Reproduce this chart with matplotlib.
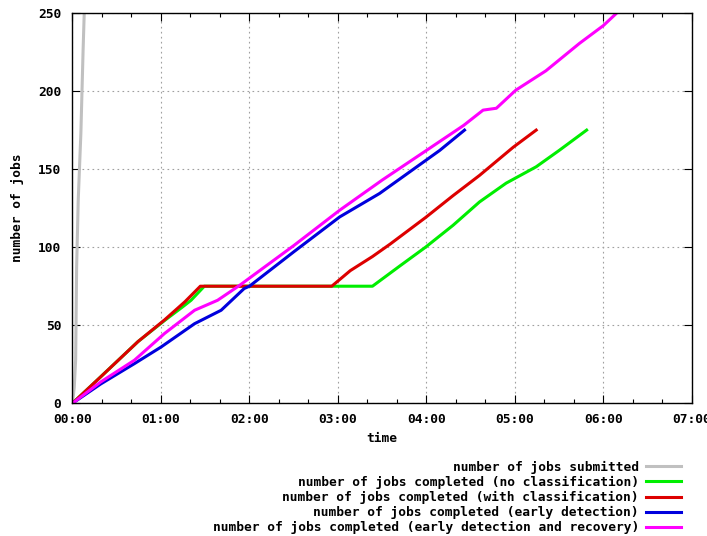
import matplotlib
matplotlib.use('Agg')
import matplotlib.pyplot as plt
from matplotlib.ticker import MultipleLocator, FuncFormatter

# time in hours, number of jobs
t_submitted = [0, 0.02, 0.036, 0.047, 0.065, 0.095, 0.12, 0.133]
n_submitted = [0, 10, 28, 87, 130, 173, 226, 250]

t_nocls = [0, 0.32, 0.74, 1.04, 1.25, 1.34, 1.49, 3.39, 3.70, 3.99, 4.30, 4.60, 4.90, 5.24, 5.50, 5.81]
n_nocls = [0, 17, 39.5, 53, 62, 66, 75, 75, 88, 100, 114, 129, 141, 151.5, 162, 175]

t_cls = [0, 0.32, 0.74, 1.04, 1.27, 1.445, 2.93, 3.14, 3.39, 3.59, 3.99, 4.30, 4.60, 4.98, 5.24]
n_cls = [0, 17, 39.5, 53.4, 65, 75, 75, 85, 94, 102, 119, 133, 146, 164, 175]

t_early = [0, 0.32, 0.70, 1.0, 1.38, 1.68, 1.94, 2.0, 2.5, 3.02, 3.47, 4.15, 4.43]
n_early = [0, 12.4, 25.4, 36, 51, 59.6, 73.5, 75, 97, 119.4, 134.4, 162, 175]

t_recov = [0, 0.32, 0.70, 1.04, 1.38, 1.64, 1.89, 2.5, 3.02, 3.5, 4.0, 4.42, 4.64, 4.79, 5.01, 5.35, 5.73, 6.0, 6.15]
n_recov = [0, 13.7, 27.6, 44.7, 59.6, 66, 75.6, 101, 123.7, 143, 162, 178, 187.8, 189, 200.6, 213, 230.6, 242, 250]

labels = ['number of jobs submitted',
          'number of jobs completed (no classification)',
          'number of jobs completed (with classification)',
          'number of jobs completed (early detection)',
          'number of jobs completed (early detection and recovery)']
colors = ['#c0c0c0', '#00ee00', '#dd0000', '#0000dd', '#ff00ff']

font = {'family': 'DejaVu Sans Mono', 'weight': 'bold', 'size': 9.3}

fig = plt.figure(figsize=(7.07, 5.36), dpi=100)
ax = fig.add_axes([0.1025, 0.2476, 0.9787 - 0.1025, 0.9757 - 0.2476])

series = [(t_submitted, n_submitted), (t_nocls, n_nocls), (t_cls, n_cls),
          (t_early, n_early), (t_recov, n_recov)]
for (t, n), c, lab in zip(series, colors, labels):
    ax.plot(t, n, color=c, lw=2.2, label=lab)

ax.set_xlim(0, 7)
ax.set_ylim(0, 250)
ax.xaxis.set_major_locator(MultipleLocator(1))
ax.xaxis.set_minor_locator(MultipleLocator(1 / 3))
ax.yaxis.set_major_locator(MultipleLocator(50))
ax.xaxis.set_major_formatter(FuncFormatter(lambda v, p: '%02d:00' % int(round(v))))
ax.tick_params(which='both', direction='in', top=True, right=True, width=0.8)
ax.tick_params(which='major', length=6)
ax.tick_params(axis='x', which='major', pad=7)
ax.tick_params(axis='y', which='major', pad=8)
ax.tick_params(which='minor', length=3)
ax.grid(True, which='major', color='#a0a0a0', linestyle=(0, (1.5, 3)), lw=0.8)
for s in ax.spines.values():
    s.set_linewidth(1)
for lab in ax.get_xticklabels() + ax.get_yticklabels():
    lab.set_fontproperties(font)

ax.set_xlabel('time', fontdict=font, labelpad=4)
ax.set_ylabel('number of jobs', fontdict=font, labelpad=10)

h, l = ax.get_legend_handles_labels()
fig.legend(h, l, loc='upper right', bbox_to_anchor=(0.963, 0.1405),
           markerfirst=False, frameon=False, prop=font,
           handlelength=2.7, handletextpad=0.55, labelspacing=0.16,
           borderaxespad=0, borderpad=0)

fig.savefig('out.png', dpi=100)
